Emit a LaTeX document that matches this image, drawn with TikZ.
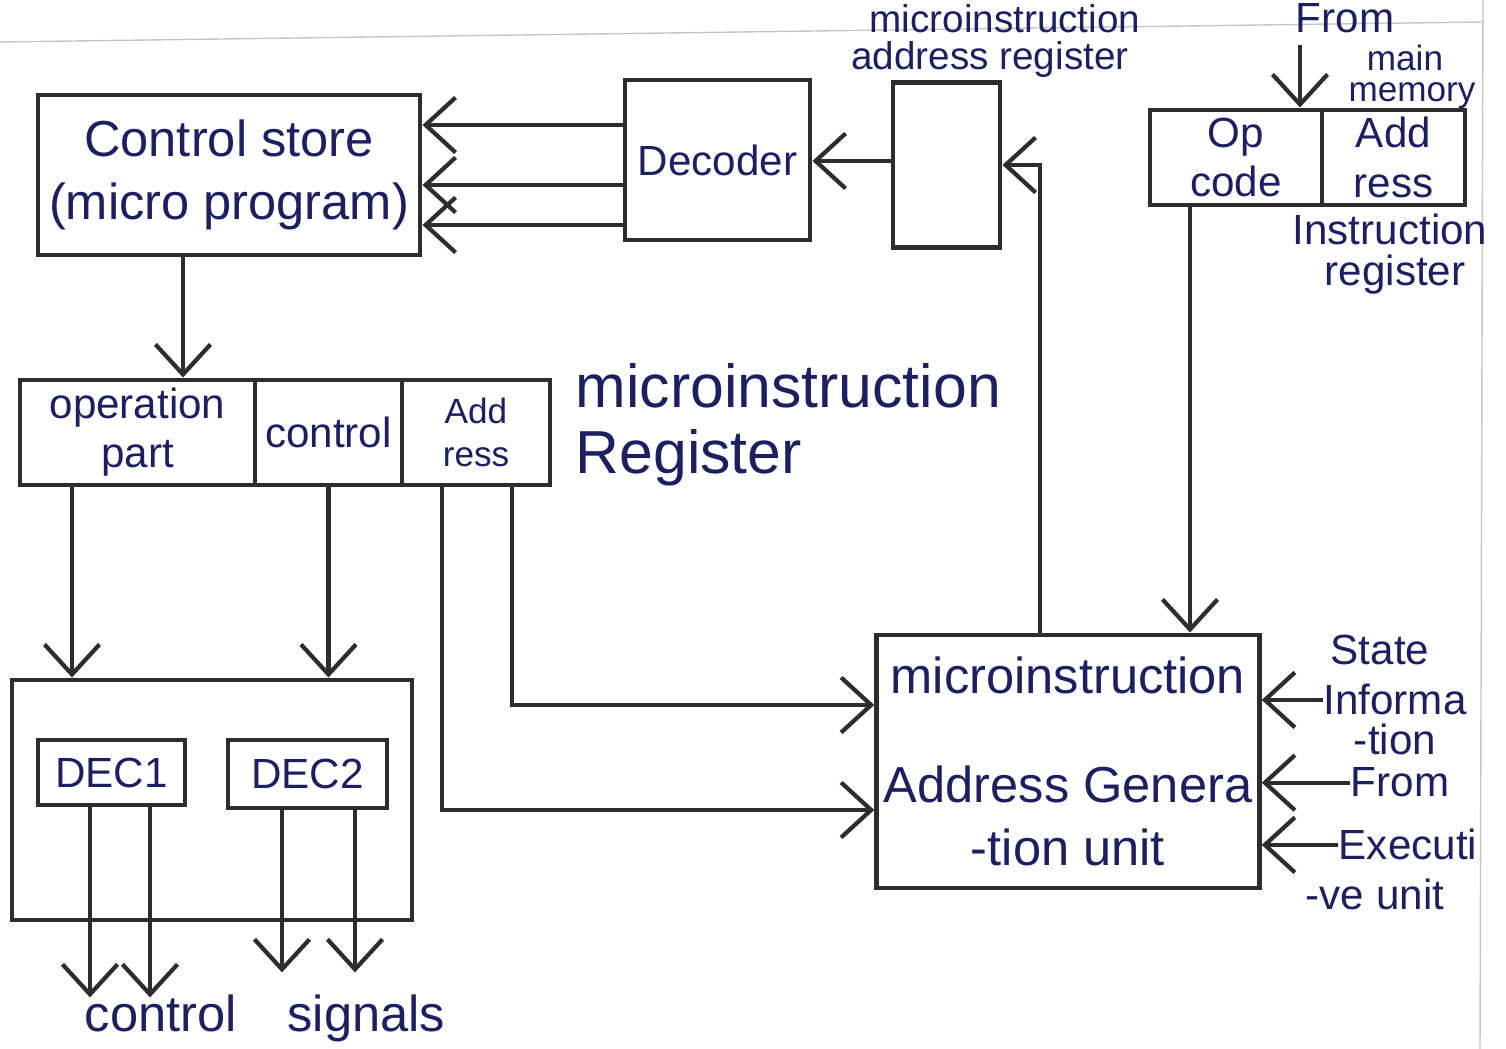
\documentclass[tikz,border=0pt]{standalone}
\usepackage{fontspec}
\setmainfont{Liberation Sans}
\usepackage{xcolor}
\usepackage{tikz}
\usetikzlibrary{arrows.meta,positioning}
\definecolor{ink}{RGB}{28,32,96}
\definecolor{pencil}{RGB}{45,45,45}

\begin{document}
\begin{tikzpicture}[
		blk/.style={draw=pencil, line width=1.4pt, align=center, text=ink, font=\Large, inner sep=2pt},
		arr/.style={draw=pencil, line width=1.2pt, -{Straight Barb[length=3mm,width=5.5mm]}},
		lbl/.style={text=ink, font=\large, inner sep=0pt, align=left, anchor=base}
	]
		\useasboundingbox (0,0) rectangle (15.06,-10.49);
		\draw[gray!45, thin] (0,-0.42) -- (14.83,-0.22) (14.83,0) -- (14.8,-10.49);

		\node[blk, minimum width=3.82cm, minimum height=1.6cm] (cs) at (2.29,-1.75) {Control store\\(micro program)};
		\node[blk, font=\large, minimum width=1.85cm, minimum height=1.6cm] (dec) at (7.175,-1.6) {Decoder};
		\node[blk, minimum width=1.07cm, minimum height=1.65cm] (mar) at (9.465,-1.65) {};
		\node[blk, font=\large, minimum width=1.72cm, minimum height=0.95cm] (irop) at (12.36,-1.575) {Op\\code};
		\node[blk, font=\large, minimum width=1.43cm, minimum height=0.95cm, right=-1.4pt of irop] (iradr) {Add\\ress};

		\node[blk, font=\large, minimum width=2.35cm, minimum height=1.05cm] (mirop) at (1.375,-4.325) {operation\\part};
		\node[blk, font=\large, minimum width=1.47cm, minimum height=1.05cm, right=-1.4pt of mirop] (mirctl) {control};
		\node[blk, font=\normalsize, minimum width=1.48cm, minimum height=1.05cm, right=-1.4pt of mirctl] (miradr) {Add\\ress};

		\node[blk, minimum width=4cm, minimum height=2.4cm] (decblk) at (2.12,-8) {};
		\node[blk, font=\large, minimum width=1.47cm, minimum height=0.65cm] (dec1) at (1.115,-7.725) {DEC1};
		\node[blk, font=\large, minimum width=1.59cm, minimum height=0.68cm] (dec2) at (3.075,-7.74) {DEC2};

		\node[blk, minimum width=3.8cm, minimum height=2.53cm] (gen) at (10.68,-7.615) {microinstruction\\[0.45cm]Address Genera\\-tion unit};

		\node[lbl, font=\fontsize{11}{12}\selectfont] (marlbl1) at (10.05,-0.33) {microinstruction};
		\node[lbl, font=\fontsize{11}{12}\selectfont] (marlbl2) at (9.9,-0.7) {address register};
		\node[lbl] (mmlbl1) at (13.45,-0.33) {From};
		\node[lbl, font=\normalsize] (mmlbl2) at (14.05,-0.71) {main};
		\node[lbl, font=\normalsize] (mmlbl3) at (14.12,-1.02) {memory};
		\node[lbl] (irlbl1) at (13.9,-2.45) {Instruction};
		\node[lbl] (irlbl2) at (13.95,-2.86) {register};
		\node[lbl, font=\LARGE, anchor=base west] (mirlbl1) at (5.75,-4.08) {microinstruction};
		\node[lbl, font=\LARGE, anchor=base west] (mirlbl2) at (5.75,-4.74) {Register};
		\node[lbl, font=\Large] (sig) at (2.65,-10.32) {control\quad signals};
		\node[lbl] (st1) at (13.8,-6.65) {State};
		\node[lbl] (st2) at (13.95,-7.15) {Informa};
		\node[lbl] (st3) at (13.95,-7.55) {-tion};
		\node[lbl] (st4) at (14.0,-7.97) {From};
		\node[lbl] (st5) at (14.08,-8.6) {Executi};
		\node[lbl] (st6) at (13.75,-9.1) {-ve unit};
		\coordinate (mm) at (13.0,-0.45);

		\foreach \dy in {3.5mm,-2.5mm,-6.5mm} {
			\draw[arr] ([yshift=\dy]dec.west) -- ([yshift=\dy]dec.west -| cs.east);
		}
		\draw[arr] ([yshift=0.4mm]mar.west) -- ([yshift=0.4mm]mar.west -| dec.east);
		\draw[arr] (mm) -- (mm |- irop.north);
		\draw[arr] ([xshift=-2.8mm]gen.north) |- (mar.east);
		\draw[arr] ([xshift=-4.6mm]irop.south) -- ([xshift=-4.6mm]irop.south |- gen.north);
		\draw[arr] ([xshift=-4.6mm]cs.south) -- ([xshift=-4.6mm]cs.south |- mirop.north);
		\draw[arr] ([xshift=-6.55mm]mirop.south) -- ([xshift=-6.55mm]mirop.south |- decblk.north);
		\draw[arr] (mirctl.south) -- (mirctl.south |- decblk.north);
		\draw[arr] ([xshift=3.6mm]miradr.south) |- ([yshift=5.65mm]gen.west);
		\draw[arr] ([xshift=-3.4mm]miradr.south) |- ([yshift=-4.85mm]gen.west);
		\foreach \dx in {-2.15mm,3.85mm} {
			\draw[arr] ([xshift=\dx]dec1.south) -- ++(0,-1.9);
		}
		\foreach \dx in {-2.55mm,4.75mm} {
			\draw[arr] ([xshift=\dx]dec2.south) -- ++(0,-1.62);
		}
		\foreach \s in {st2,st4,st5} {
			\draw[arr] (\s.west) -- (\s.west -| gen.east);
		}
	\end{tikzpicture}
\end{document}
